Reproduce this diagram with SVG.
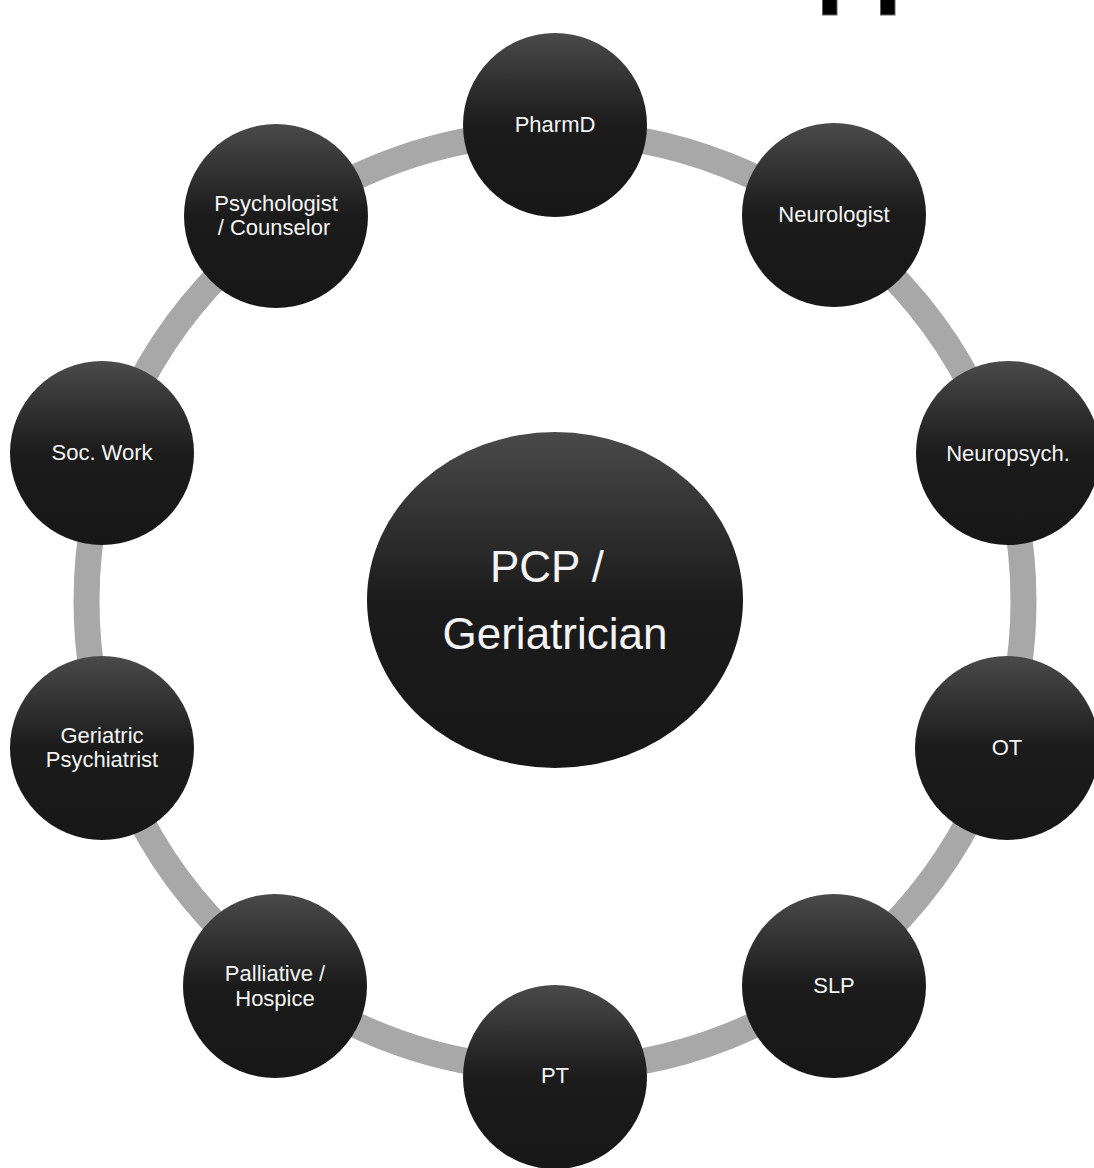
<svg xmlns="http://www.w3.org/2000/svg" width="1094" height="1168" viewBox="0 0 1094 1168">
  <style>
    .node { fill: url(#g); }
    .lbl { font-family: "Liberation Sans", Arial, sans-serif; font-size: 22px; fill: #f4f4f4; text-anchor: middle; }
    .big { font-family: "Liberation Sans", Arial, sans-serif; font-size: 44px; fill: #f4f4f4; text-anchor: middle; }
    .ring { fill: none; stroke: #a8a8a8; stroke-width: 26; }
  </style>
  <defs>
    <linearGradient id="g" x1="0" y1="0" x2="0" y2="1">
      <stop offset="0" stop-color="#4a4a4a"/>
      <stop offset="0.5" stop-color="#1b1b1b"/>
      <stop offset="1" stop-color="#171717"/>
    </linearGradient>
  </defs>
  <rect width="1094" height="1168" fill="#ffffff"/>
  <rect x="822.5" y="-1" width="14.5" height="16" fill="#000" stroke="#666" stroke-width="1"/>
  <rect x="880.5" y="-1" width="14.5" height="16" fill="#000" stroke="#666" stroke-width="1"/>
  <g id="connectors">
    <circle class="ring" cx="555" cy="601" r="468.5"/>
  </g>
  <g id="center">
    <ellipse class="node" cx="555" cy="600" rx="188" ry="168"/>
    <text class="big" x="547" y="582">PCP /</text>
    <text class="big" x="555" y="649">Geriatrician</text>
  </g>
  <g id="pharmd">
    <circle class="node" cx="555" cy="125" r="92"/>
    <text class="lbl" x="555" y="132">PharmD</text>
  </g>
  <g id="neurologist">
    <circle class="node" cx="834" cy="215" r="92"/>
    <text class="lbl" x="834" y="222">Neurologist</text>
  </g>
  <g id="neuropsych">
    <circle class="node" cx="1008" cy="453" r="92"/>
    <text class="lbl" x="1008" y="461">Neuropsych.</text>
  </g>
  <g id="ot">
    <circle class="node" cx="1007" cy="748" r="92"/>
    <text class="lbl" x="1007" y="755">OT</text>
  </g>
  <g id="slp">
    <circle class="node" cx="834" cy="986" r="92"/>
    <text class="lbl" x="834" y="993">SLP</text>
  </g>
  <g id="pt">
    <circle class="node" cx="555" cy="1077" r="92"/>
    <text class="lbl" x="555" y="1083">PT</text>
  </g>
  <g id="palliative">
    <circle class="node" cx="275" cy="986" r="92"/>
    <text class="lbl" x="275" y="981">Palliative /</text>
    <text class="lbl" x="275" y="1006">Hospice</text>
  </g>
  <g id="geriatric-psychiatrist">
    <circle class="node" cx="102" cy="748" r="92"/>
    <text class="lbl" x="102" y="743">Geriatric</text>
    <text class="lbl" x="102" y="767">Psychiatrist</text>
  </g>
  <g id="soc-work">
    <circle class="node" cx="102" cy="453" r="92"/>
    <text class="lbl" x="102" y="460">Soc. Work</text>
  </g>
  <g id="psychologist">
    <circle class="node" cx="276" cy="216" r="92"/>
    <text class="lbl" x="276" y="211">Psychologist</text>
    <text class="lbl" x="274" y="235">/ Counselor</text>
  </g>
</svg>
